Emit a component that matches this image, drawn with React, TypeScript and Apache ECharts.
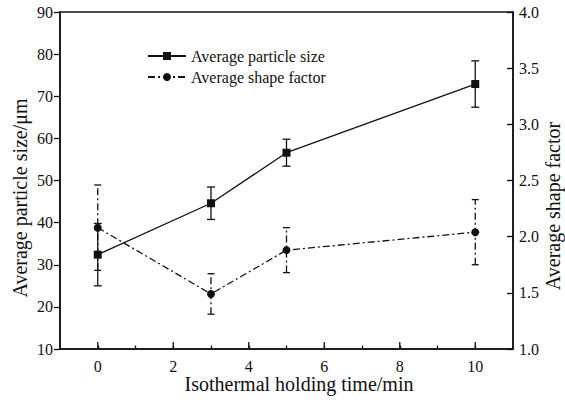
import React, { useEffect, useRef } from "react";
import * as echarts from "echarts";

const times = [0, 3, 5, 10];
const sizeMean = [32.4, 44.6, 56.6, 72.9];
const sizeErr = [7.4, 3.85, 3.2, 5.5];
const shapeMean = [2.08, 1.49, 1.88, 2.04];
const shapeErr = [0.38, 0.18, 0.2, 0.29];
const majorTicks = [0, 2, 4, 6, 8, 10];
const leftMin = 10;

const FONT = "Liberation Serif";
const INK = "#111";

function errorSeries(means: number[], errs: number[], yAxisIndex: number, dash: number[] | null, half: number) {
  return {
    type: "custom",
    yAxisIndex,
    silent: true,
    z: 3,
    data: times.map((t, i) => [t, means[i] - errs[i], means[i] + errs[i]]),
    encode: { x: 0, y: [1, 2] },
    renderItem: (params: any, api: any) => {
      const x = api.value(0);
      const lo = api.coord([x, api.value(1)]);
      const hi = api.coord([x, api.value(2)]);
      const st: any = { stroke: INK, lineWidth: 1.3 };
      if (dash) st.lineDash = dash;
      const cs: any = { stroke: INK, lineWidth: 1.3 };
      return {
        type: "group",
        children: [
          { type: "line", shape: { x1: lo[0], y1: lo[1], x2: hi[0], y2: hi[1] }, style: st },
          { type: "line", shape: { x1: lo[0] - half, y1: lo[1], x2: lo[0] + half, y2: lo[1] }, style: cs },
          { type: "line", shape: { x1: hi[0] - half, y1: hi[1], x2: hi[0] + half, y2: hi[1] }, style: cs },
        ],
      };
    },
  };
}

export default function App() {
  const ref = useRef<HTMLDivElement>(null);
  useEffect(() => {
    if (!ref.current) return;
    document.body.style.margin = "0";
    const chart = echarts.init(ref.current, null, { renderer: "svg" });
    const dashDot = [7, 3, 2, 3];
    chart.setOption({
      animation: false,
      backgroundColor: "#fff",
      textStyle: { fontFamily: FONT },
      grid: {
        left: 60,
        right: 52,
        top: 12,
        bottom: 58,
        show: true,
        borderColor: INK,
        borderWidth: 1.5,
        backgroundColor: "transparent",
      },
      legend: {
        orient: "vertical",
        left: 147,
        top: 48,
        padding: 0,
        itemWidth: 38,
        itemHeight: 10,
        itemGap: 5,
        textStyle: { fontFamily: FONT, fontSize: 16, color: INK },
        data: ["Average particle size", "Average shape factor"],
      },
      xAxis: {
        type: "value",
        min: -1,
        max: 11,
        interval: 1,
        axisLine: { onZero: false, lineStyle: { color: INK, width: 1.5 } },
        axisTick: { inside: true, length: 3.5, lineStyle: { color: INK, width: 1.3 } },
        axisLabel: {
          fontFamily: FONT,
          fontSize: 16,
          color: INK,
          margin: 9,
          showMinLabel: false,
          showMaxLabel: false,
          formatter: (v: number) => (v % 2 === 0 ? String(v) : ""),
        },
        splitLine: { show: false },
      },
      yAxis: [
        {
          type: "value",
          min: 10,
          max: 90,
          interval: 10,
          position: "left",
          axisLine: { show: true, onZero: false, lineStyle: { color: INK, width: 1.5 } },
          axisTick: { show: true, inside: false, length: 6, lineStyle: { color: INK, width: 1.3 } },
          axisLabel: { fontFamily: FONT, fontSize: 16, color: INK, margin: 7 },
          splitLine: { show: false },
        },
        {
          type: "value",
          min: 1,
          max: 4,
          interval: 0.5,
          position: "right",
          axisLine: { show: true, onZero: false, lineStyle: { color: INK, width: 1.5 } },
          axisTick: { show: true, inside: true, length: 6, lineStyle: { color: INK, width: 1.3 } },
          axisLabel: {
            fontFamily: FONT,
            fontSize: 16,
            color: INK,
            margin: 6,
            formatter: (v: number) => v.toFixed(1),
          },
          splitLine: { show: false },
        },
      ],
      graphic: [
        {
          type: "text",
          x: 20,
          y: 198,
          rotation: Math.PI / 2,
          style: {
            text: "Average particle size/μm",
            fontFamily: FONT,
            fontSize: 20,
            fill: INK,
            align: "center",
            verticalAlign: "middle",
          },
        },
        {
          type: "text",
          x: 553,
          y: 206,
          rotation: Math.PI / 2,
          style: {
            text: "Average shape factor",
            fontFamily: FONT,
            fontSize: 20,
            fill: INK,
            align: "center",
            verticalAlign: "middle",
          },
        },
        {
          type: "text",
          x: 299,
          y: 384,
          style: {
            text: "Isothermal holding time/min",
            fontFamily: FONT,
            fontSize: 20,
            fill: INK,
            align: "center",
            verticalAlign: "middle",
          },
        },
      ],
      series: [
        {
          name: "Average particle size",
          type: "line",
          yAxisIndex: 0,
          data: times.map((t, i) => [t, sizeMean[i]]),
          symbol: "rect",
          symbolSize: 8,
          itemStyle: { color: INK },
          lineStyle: { color: INK, width: 1.3 },
          z: 4,
        },
        {
          name: "Average shape factor",
          type: "line",
          yAxisIndex: 1,
          data: times.map((t, i) => [t, shapeMean[i]]),
          symbol: "circle",
          symbolSize: 8,
          itemStyle: { color: INK },
          lineStyle: { color: INK, width: 1.3, type: dashDot },
          z: 4,
        },
        errorSeries(sizeMean, sizeErr, 0, null, 4),
        errorSeries(shapeMean, shapeErr, 1, dashDot, 3.5),
        {
          type: "custom",
          silent: true,
          data: majorTicks.map((v) => [v, leftMin]),
          encode: { x: 0, y: 1 },
          renderItem: (params: any, api: any) => {
            const p = api.coord([api.value(0), api.value(1)]);
            return {
              type: "line",
              shape: { x1: p[0], y1: p[1], x2: p[0], y2: p[1] - 7 },
              style: { stroke: INK, lineWidth: 1.3 },
            };
          },
        },
      ],
    });
    return () => chart.dispose();
  }, []);
  return (
    <div
      ref={ref}
      style={{ position: "fixed", left: 0, top: 0, width: 565, height: 407 }}
    />
  );
}
